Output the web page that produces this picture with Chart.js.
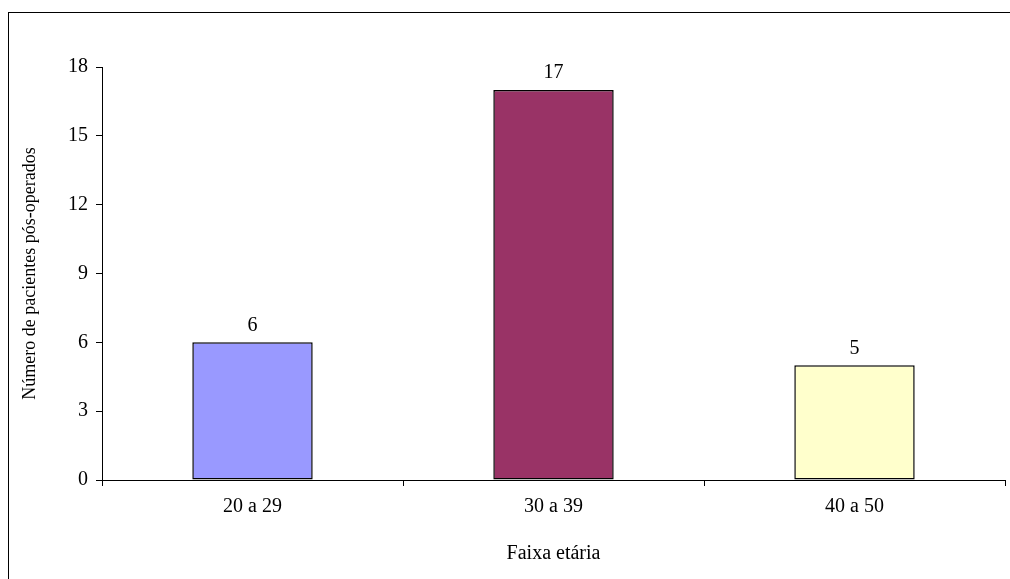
<!DOCTYPE html>
<html>
<head>
<meta charset="utf-8">
<script src="https://cdn.jsdelivr.net/npm/chart.js"></script>
<style>
  html, body { margin: 0; padding: 0; background: #fff; }
  #wrap { width: 1010px; height: 579px; }
</style>
</head>
<body>
<div id="wrap"><canvas id="chart" width="1010" height="579"></canvas></div>
<script>
// Dados
const categories = ['20 a 29', '30 a 39', '40 a 50'];
const pacientes = [6, 17, 5];
const barColors = ['#9999FF', '#993366', '#FFFFCC'];
const yTicks = [0, 3, 6, 9, 12, 15, 18];

Chart.defaults.font.family = "'Liberation Serif', 'Times New Roman', serif";
Chart.defaults.color = '#000';

// moldura em volta do gráfico
const framePlugin = {
    id: 'frame',
    beforeDraw(chart) {
        const ctx = chart.ctx;
        ctx.save();
        ctx.fillStyle = '#fff';
        ctx.fillRect(0, 0, chart.width, chart.height);
        ctx.strokeStyle = '#000';
        ctx.lineWidth = 1;
        ctx.strokeRect(8.5, 12.5, 1010, 600);
        ctx.restore();
    }
};

// rótulos com os valores acima das barras
const valueLabels = {
    id: 'valueLabels',
    afterDatasetsDraw(chart) {
        const ctx = chart.ctx;
        const meta = chart.getDatasetMeta(0);
        ctx.save();
        ctx.font = "20px 'Liberation Serif', serif";
        ctx.fillStyle = '#000';
        ctx.textAlign = 'center';
        ctx.textBaseline = 'middle';
        meta.data.forEach((bar, i) => {
            ctx.fillText(String(pacientes[i]), bar.x, bar.y - 17);
        });
        ctx.restore();
    }
};

new Chart(document.getElementById('chart'), {
    type: 'bar',
    data: {
        labels: categories,
        datasets: [{
            data: pacientes,
            backgroundColor: barColors,
            borderColor: '#000',
            borderWidth: 1.5,
            borderSkipped: false,
            categoryPercentage: 1,
            barPercentage: 0.4
        }]
    },
    options: {
        responsive: false,
        animation: false,
        layout: { padding: { top: 67, right: 5, left: 0, bottom: 0 } },
        plugins: {
            legend: { display: false },
            tooltip: { enabled: false }
        },
        scales: {
            x: {
                afterFit(scale) { scale.height = 99; },
                grid: {
                    offset: true,
                    drawOnChartArea: false,
                    drawTicks: true,
                    tickLength: 6,
                    color: '#000'
                },
                border: { color: '#000', width: 1 },
                ticks: { font: { size: 20 }, padding: 9, color: '#000' },
                title: {
                    display: true,
                    text: 'Faixa etária',
                    font: { size: 20 },
                    padding: { top: 0, bottom: 13 },
                    color: '#000'
                }
            },
            y: {
                min: 0,
                max: 18,
                afterFit(scale) { scale.width = 102; },
                afterBuildTicks(scale) { scale.ticks = yTicks.map(v => ({ value: v })); },
                grid: {
                    drawOnChartArea: false,
                    drawTicks: true,
                    tickLength: 6,
                    color: '#000'
                },
                border: { color: '#000', width: 1 },
                ticks: { font: { size: 20 }, padding: 8, color: '#000' },
                title: {
                    display: true,
                    text: 'Número de pacientes pós-operados',
                    font: { size: 18 },
                    padding: { top: 19, bottom: 0 },
                    color: '#000'
                }
            }
        }
    },
    plugins: [framePlugin, valueLabels]
});
</script>
</body>
</html>
